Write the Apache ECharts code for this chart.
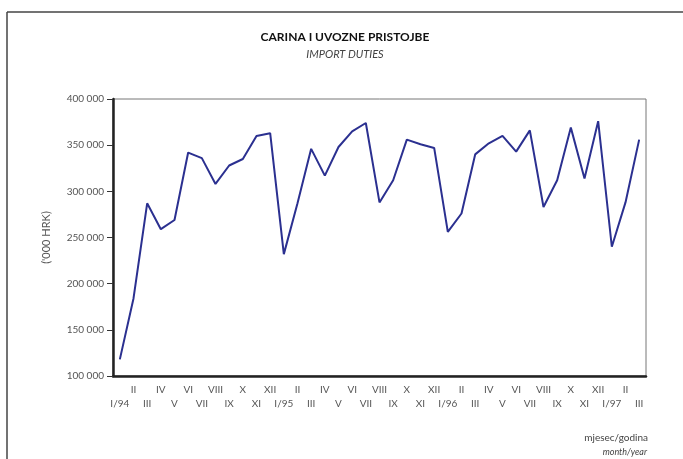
<!DOCTYPE html>
<html>
<head>
<meta charset="utf-8">
<script src="https://cdn.jsdelivr.net/npm/echarts@6/dist/echarts.min.js"></script>
<style>
  html, body { margin: 0; padding: 0; background: #fff; }
  #chart { width: 683px; height: 459px; }
</style>
</head>
<body>
<div id="chart"></div>
<script>
// monthly import duties, I/94 .. III/97 ('000 HRK)
const categories = [
  "I/94", "II", "III", "IV", "V", "VI", "VII", "VIII", "IX", "X", "XI", "XII",
  "I/95", "II", "III", "IV", "V", "VI", "VII", "VIII", "IX", "X", "XI", "XII",
  "I/96", "II", "III", "IV", "V", "VI", "VII", "VIII", "IX", "X", "XI", "XII",
  "I/97", "II", "III"
];
const duties = [
  118000, 184000, 287000, 259000, 269000, 342000, 336000, 308000, 328000, 335000, 360000, 363000,
  232000, 287000, 346000, 317000, 348000, 365000, 374000, 288000, 312000, 356000, 351000, 347000,
  256000, 276000, 340000, 352000, 360000, 343000, 366000, 283000, 312000, 369000, 314000, 376000,
  240000, 288000, 356000
];

const chart = echarts.init(document.getElementById("chart"));
const font = "Lato, 'Open Sans', sans-serif";

const option = {
  animation: false,
  grid: {
    left: 113,
    top: 99,
    right: 37,
    bottom: 83,
    show: true,
    borderColor: "#777",
    borderWidth: 1
  },
  xAxis: {
    type: "category",
    data: categories,
    boundaryGap: true,
    axisLine: { lineStyle: { color: "#222", width: 2.5 } },
    axisTick: { show: false },
    axisLabel: {
      interval: 0,
      margin: 7,
      fontSize: 10,
      fontFamily: font,
      color: "#555",
      lineHeight: 14,
      formatter: (v, i) => (i % 2 === 1 ? v : "\n" + v)
    },
    splitLine: { show: false }
  },
  yAxis: {
    type: "value",
    min: 100000,
    max: 400000,
    interval: 50000,
    name: "('000 HRK)",
    nameLocation: "middle",
    nameRotate: 90,
    nameGap: 61,
    nameTextStyle: { fontSize: 11, fontFamily: font, color: "#555" },
    axisLine: { show: true, lineStyle: { color: "#222", width: 2.5 } },
    axisTick: { show: true, length: 6, lineStyle: { color: "#333", width: 1 } },
    axisLabel: {
      margin: 9,
      fontSize: 10,
      fontFamily: font,
      color: "#555",
      formatter: v => String(v).replace(/\B(?=(\d{3})+(?!\d))/g, " ")
    },
    splitLine: { show: false }
  },
  graphic: [
    { type: "line", shape: { x1: 7, y1: 12, x2: 683, y2: 12 }, style: { stroke: "#444", lineWidth: 1.5 } },
    { type: "line", shape: { x1: 7, y1: 12, x2: 7, y2: 459 }, style: { stroke: "#444", lineWidth: 1.5 } },
    {
      type: "text", x: 345, y: 37,
      style: {
        text: "CARINA I UVOZNE PRISTOJBE",
        textAlign: "center", textVerticalAlign: "middle",
        font: "bold 12px " + font, fill: "#111"
      }
    },
    {
      type: "text", x: 345, y: 54,
      style: {
        text: "IMPORT DUTIES",
        textAlign: "center", textVerticalAlign: "middle",
        font: "italic 11px " + font, fill: "#444"
      }
    },
    {
      type: "text", x: 648, y: 438,
      style: {
        text: "mjesec/godina",
        textAlign: "right", textVerticalAlign: "middle",
        font: "10px " + font, fill: "#444"
      }
    },
    {
      type: "text", x: 647, y: 452,
      style: {
        text: "month/year",
        textAlign: "right", textVerticalAlign: "middle",
        font: "italic 9px " + font, fill: "#444"
      }
    }
  ],
  series: [
    {
      type: "line",
      data: duties,
      symbol: "none",
      lineStyle: { color: "#2b3090", width: 2 }
    }
  ]
};

chart.setOption(option);
</script>
</body>
</html>
